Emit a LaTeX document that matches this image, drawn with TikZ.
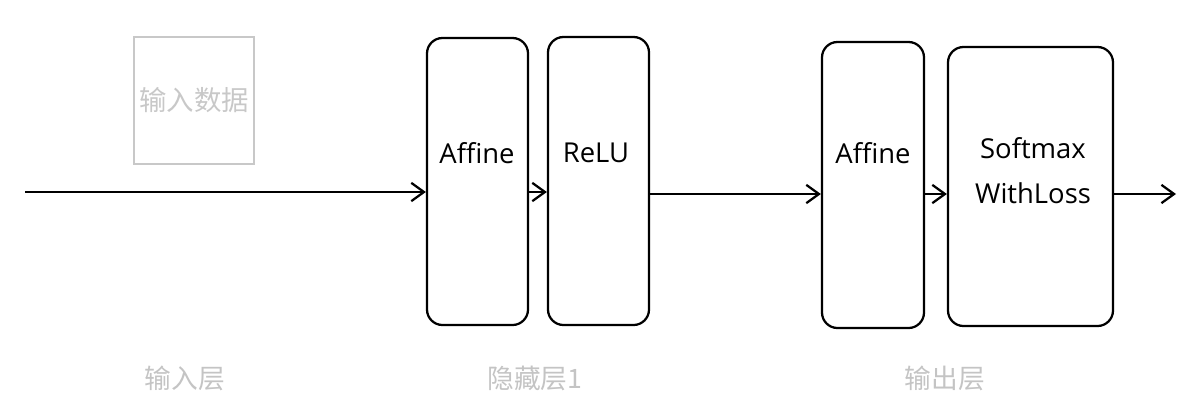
\documentclass[tikz,border=0pt]{standalone}
\usepackage{fontspec}
\setmainfont{Open Sans}
\newfontfamily\cjk{Noto Sans CJK SC}
\usetikzlibrary{arrows.meta}

\definecolor{lightgrey}{HTML}{C8C8C8}
\definecolor{labelgrey}{HTML}{C4C4C4}

\tikzset{
    layer/.style={draw, line width=1.6pt, rounded corners=11pt, inner sep=0pt},
    layertext/.style={font=\fontsize{19.5}{32}\selectfont, align=center},
    layername/.style={font=\cjk\fontsize{19}{20}\selectfont, text=labelgrey},
    flow/.style={line width=1.6pt, -{Straight Barb[length=9pt, width=13pt, line width=1.6pt]}}
}

\begin{document}
\begin{tikzpicture}[x=0.025cm, y=-0.025cm]
    \useasboundingbox (0, 0) rectangle (1185, 402);

    % input data
    \node[draw=lightgrey, line width=1.6pt, minimum width=120*0.025cm, minimum height=127*0.025cm,
          font=\cjk\fontsize{19.5}{20}\selectfont, text=lightgrey] (inbox) at (194, 100.5) {输入数据};

    % layers
    \node[layer, minimum width=101*0.025cm, minimum height=287*0.025cm] (affineA) at (477.5, 181.5) {};
    \node[layer, minimum width=101*0.025cm, minimum height=288*0.025cm] (relu) at (598.5, 181) {};
    \node[layer, minimum width=102*0.025cm, minimum height=286*0.025cm] (affineB) at (873, 185) {};
    \node[layer, minimum width=165*0.025cm, minimum height=279*0.025cm] (softmax) at (1030.5, 186.5) {};

    \node[layertext] (affineAtext) at (477, 153) {Affine};
    \node[layertext] (relutext) at (596, 153) {ReLU};
    \node[layertext] (affineBtext) at (873, 153) {Affine};
    \node[layertext] (softmaxtext) at (1033, 171) {Softmax\\WithLoss};

    % connectors
    \coordinate (in) at (25, 192);
    \coordinate (mid) at (0, 194);
    \coordinate (out) at (1176, 194);
    \draw[flow] (in) -- (in -| affineA.west);
    \draw[flow] (affineA.east |- in) -- (relu.west |- in);
    \draw[flow] (relu.east |- mid) -- (affineB.west |- mid);
    \draw[flow] (affineB.east |- mid) -- (softmax.west |- mid);
    \draw[flow] (softmax.east |- mid) -- (out);

    % layer names
    \node[layername] (inname) at (185, 378) {输入层};
    \node[layername] (hiddenname) at (535, 378) {隐藏层1};
    \node[layername] (outname) at (945, 378) {输出层};
\end{tikzpicture}
\end{document}
